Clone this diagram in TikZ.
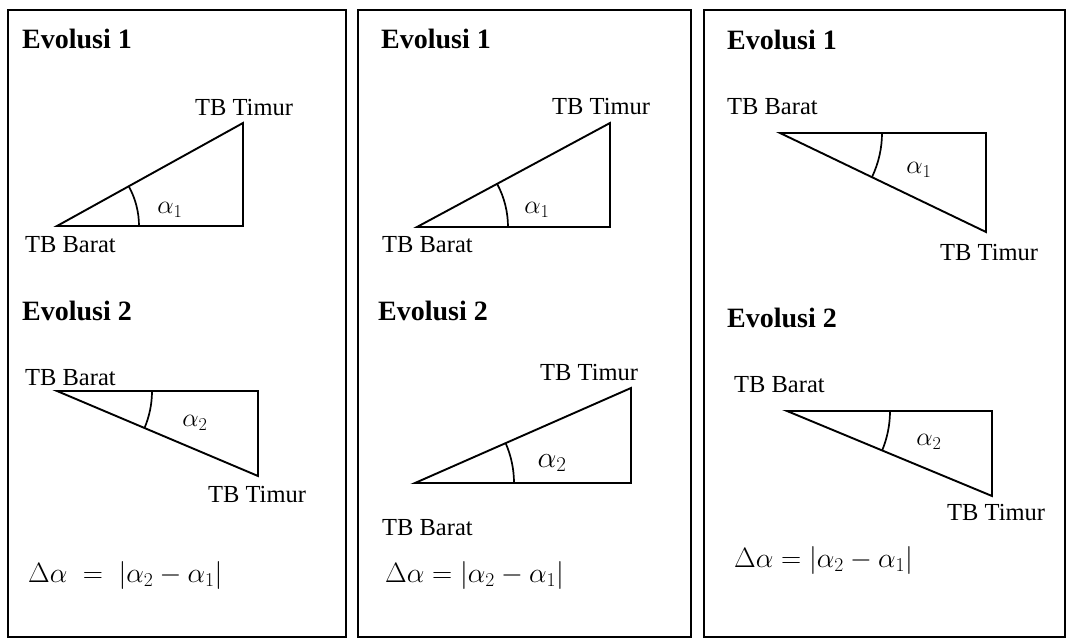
\RequirePackage{fix-cm}
\documentclass[tikz,border=0pt]{standalone}
\usepackage{fontspec}
\setmainfont{Liberation Serif}
\begin{document}
\begin{tikzpicture}[x=1pt,y=1pt,
  panel/.style={draw=black,line width=2pt},
  tri/.style={draw=black,line width=1.9pt,line join=miter},
  angarc/.style={draw=black,line width=1.7pt},
  title/.style={anchor=base west,inner sep=0pt,font=\fontsize{28}{32}\selectfont\bfseries},
  lbl/.style={anchor=west,inner sep=0pt,font=\fontsize{24.5}{28}\selectfont},
  alab/.style={inner sep=0pt,font=\fontsize{26}{30}\selectfont},
  formula/.style={anchor=west,inner sep=0pt,font=\fontsize{28}{32}\selectfont}]
\useasboundingbox (0,0) rectangle (1072,-639);
\fill[white] (0,0) rectangle (1072,-639);

% panels
\draw[panel] (8,-10) rectangle (346,-637);
\draw[panel] (358,-10) rectangle (691,-637);
\draw[panel] (704,-10) rectangle (1065,-637);

% ===== Panel 1 =====
\node[title] (t11) at (22,-49) {Evolusi 1};
\coordinate (a11) at (57,-226);
\coordinate (b11) at (243,-226);
\coordinate (c11) at (243,-123);
\draw[tri] (a11) -- (b11) -- (c11) -- cycle;
\draw[angarc] ([shift={(0:82)}]a11) arc[start angle=0,end angle=29,radius=82];
\node[alab] (al11) at (170,-210) {$\alpha_1$};
\node[lbl] (tm11) at (195,-108) {TB Timur};
\node[lbl] (br11) at (25,-245) {TB Barat};

\node[title] (t12) at (22,-320) {Evolusi 2};
\coordinate (a12) at (57,-391);
\coordinate (b12) at (258,-391);
\coordinate (c12) at (258,-476);
\draw[tri] (a12) -- (b12) -- (c12) -- cycle;
\draw[angarc] ([shift={(0:95)}]a12) arc[start angle=0,end angle=-22.9,radius=95];
\node[alab] (al12) at (195,-423) {$\alpha_2$};
\node[lbl] (br12) at (25,-378) {TB Barat};
\node[lbl] (tm12) at (208,-495) {TB Timur};
\node[formula] (f1) at (28,-575) {$\Delta\alpha\;=\;\left|\alpha_2-\alpha_1\right|$};

% ===== Panel 2 =====
\node[title] (t21) at (381,-49) {Evolusi 1};
\coordinate (a21) at (417,-227);
\coordinate (b21) at (610,-227);
\coordinate (c21) at (610,-123);
\draw[tri] (a21) -- (b21) -- (c21) -- cycle;
\draw[angarc] ([shift={(0:91)}]a21) arc[start angle=0,end angle=28.3,radius=91];
\node[alab] (al21) at (537,-210) {$\alpha_1$};
\node[lbl] (tm21) at (552,-107) {TB Timur};
\node[lbl] (br21) at (382,-245) {TB Barat};

\node[title] (t22) at (378,-320) {Evolusi 2};
\coordinate (a22) at (415,-483);
\coordinate (b22) at (631,-483);
\coordinate (c22) at (631,-388);
\draw[tri] (a22) -- (b22) -- (c22) -- cycle;
\draw[angarc] ([shift={(0:99)}]a22) arc[start angle=0,end angle=23.7,radius=99];
\node[alab,font=\fontsize{30}{34}\selectfont] (al22) at (552,-463) {$\alpha_2$};
\node[lbl] (tm22) at (540,-373) {TB Timur};
\node[lbl] (br22) at (382,-528) {TB Barat};
\node[formula] (f2) at (385,-575) {$\Delta\alpha=\left|\alpha_2-\alpha_1\right|$};

% ===== Panel 3 =====
\node[title] (t31) at (727,-50) {Evolusi 1};
\coordinate (a31) at (780,-133);
\coordinate (b31) at (986,-133);
\coordinate (c31) at (986,-232);
\draw[tri] (a31) -- (b31) -- (c31) -- cycle;
\draw[angarc] ([shift={(0:102)}]a31) arc[start angle=0,end angle=-25.7,radius=102];
\node[alab] (al31) at (919,-170) {$\alpha_1$};
\node[lbl] (br31) at (727,-107) {TB Barat};
\node[lbl] (tm31) at (940,-253) {TB Timur};

\node[title] (t32) at (727,-327) {Evolusi 2};
\coordinate (a32) at (787,-411);
\coordinate (b32) at (992,-411);
\coordinate (c32) at (992,-496);
\draw[tri] (a32) -- (b32) -- (c32) -- cycle;
\draw[angarc] ([shift={(0:103)}]a32) arc[start angle=0,end angle=-22.5,radius=103];
\node[alab] (al32) at (929,-442) {$\alpha_2$};
\node[lbl] (br32) at (734,-385) {TB Barat};
\node[lbl] (tm32) at (947,-513) {TB Timur};
\node[formula] (f3) at (734,-560) {$\Delta\alpha=\left|\alpha_2-\alpha_1\right|$};
\end{tikzpicture}
\end{document}
